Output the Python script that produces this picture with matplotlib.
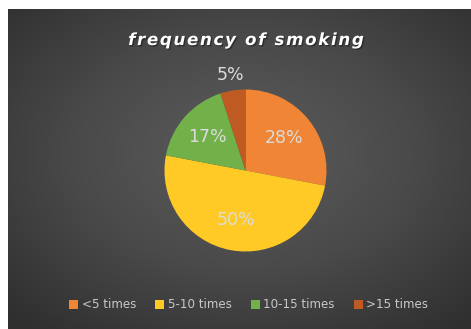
import numpy as np
import matplotlib
matplotlib.use("Agg")
import matplotlib.pyplot as plt
import matplotlib.patches as mpatches
import matplotlib.patheffects as pe
from matplotlib.colors import LinearSegmentedColormap

# Data
categories = ["<5 times", "5-10 times", "10-15 times", ">15 times"]
shares = [28, 50, 17, 5]
slice_colors = ["#EF8535", "#FFC926", "#72B04A", "#BE5A22"]
title_text = "frequency of smoking"

W, H = 471, 329
fig = plt.figure(figsize=(W / 100, H / 100), dpi=100)
fig.patch.set_facecolor("white")

# Dark panel with a radial gradient
bg_left, bg_bottom = 8 / W, 0.0
bg_w, bg_h = 1 - bg_left, 1 - 9 / H
bg = fig.add_axes([bg_left, bg_bottom, bg_w, bg_h])
yy, xx = np.mgrid[0:300, 0:460]
cx, cy = 460 * 0.51, 300 * 0.45
r = np.sqrt(((xx - cx) / 460) ** 2 + ((yy - cy) / 300) ** 2)
r = np.clip(r / 0.72, 0, 1)
bg_cmap = LinearSegmentedColormap.from_list("panel", ["#5c5c5c", "#4a4a4a", "#2f2f2f"])
bg.imshow(r, cmap=bg_cmap, aspect="auto", interpolation="bilinear", vmin=0, vmax=1)
bg.set_axis_off()

# Title with letter spacing
spaced = "\u200a \u200a".join("\u200a".join(word) for word in title_text.split())
fig.text(0.521, 1 - 40 / H, spaced, ha="center", va="center", color="white",
         fontsize=12, fontweight="bold", fontstyle="italic",
         path_effects=[pe.withSimplePatchShadow(offset=(1, -1), shadow_rgbFace="black", alpha=0.35)])

# Pie
cxp, cyp, rad = 245.5, 170.5, 81
ax = fig.add_axes([(cxp - rad) / W, (H - cyp - rad) / H, 2 * rad / W, 2 * rad / H])
ax.set_facecolor("none")
wedges, _ = ax.pie(shares, colors=slice_colors, startangle=90, counterclock=False,
                   radius=1, wedgeprops=dict(linewidth=0))
ax.set_xlim(-1, 1)
ax.set_ylim(-1, 1)
ax.set_aspect("equal")

for w, v in zip(wedges, shares):
    mid = np.deg2rad((w.theta1 + w.theta2) / 2)
    dist = 0.62 if v >= 10 else 1.19
    ax.text(dist * np.cos(mid), dist * np.sin(mid), f"{v}%", ha="center", va="center",
            color="#dcdcdc", fontsize=12.5, clip_on=False)

# Legend
handles = [mpatches.Patch(facecolor=c, edgecolor="none") for c in slice_colors]
leg = fig.legend(handles, categories, loc="center", bbox_to_anchor=(0.528, 1 - 305 / H),
                 ncol=4, frameon=False, fontsize=8.6, handlelength=0.75, handleheight=0.75,
                 handletextpad=0.3, columnspacing=1.6, labelcolor="#c8c8c8")

fig.savefig("out.png", dpi=100)
